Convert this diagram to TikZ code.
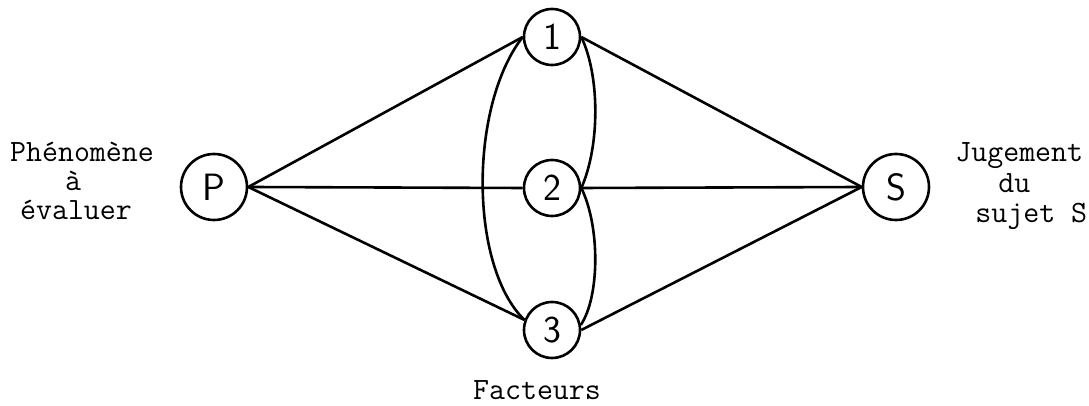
\documentclass[tikz,border=0pt]{standalone}
\usepackage{fontspec}
\usepackage{tikz}

\begin{document}
\begin{tikzpicture}[
  x=0.5pt,
  y=0.5pt,
  edge/.style={draw=black, line width=1.3pt},
  factor/.style={circle, draw, line width=1.3pt, minimum size=28pt, inner sep=0pt,
    font=\sffamily\fontsize{19}{19}\selectfont},
  pole/.style={factor, minimum size=33pt},
  caption/.style={font=\ttfamily\fontsize{15.5}{15.5}\selectfont, inner sep=0pt}
]
\useasboundingbox (0,0) rectangle (1089,406);
\node[pole] (P) at (214,219) {P};
\node[pole] (S) at (896,219) {S};
\foreach \n/\y in {1/369,2/218,3/76} {
  \node[factor] (f\n) at (552,\y) {\n};
}
\foreach \n/\l/\r in {1/west/east,2/west/east,3/160/east} {
  \draw[edge] (P.east) -- (f\n.\l);
  \draw[edge] (f\n.\r) -- (S.west);
}
\draw[edge] (f1.west) .. controls (469,300) and (469,140) .. (f3.160);
\draw[edge] (f1.east) .. controls (600,330) and (600,260) .. (f2.east);
\draw[edge] (f2.east) .. controls (600,180) and (600,110) .. (f3.10);
\node[caption, anchor=base] (phen) at (82,244) {Phénomène};
\node[caption, anchor=base] (phena) at (73,215) {à};
\node[caption, anchor=base] (phenb) at (76,186) {évaluer};
\node[caption, anchor=base west] (jug) at (955,244) {Jugement};
\node[caption, anchor=base west] (juga) at (998,213) {du};
\node[caption, anchor=base west] (jugb) at (975,183) {sujet S};
\node[caption, anchor=base] (fact) at (537,6) {Facteurs};
\end{tikzpicture}
\end{document}
